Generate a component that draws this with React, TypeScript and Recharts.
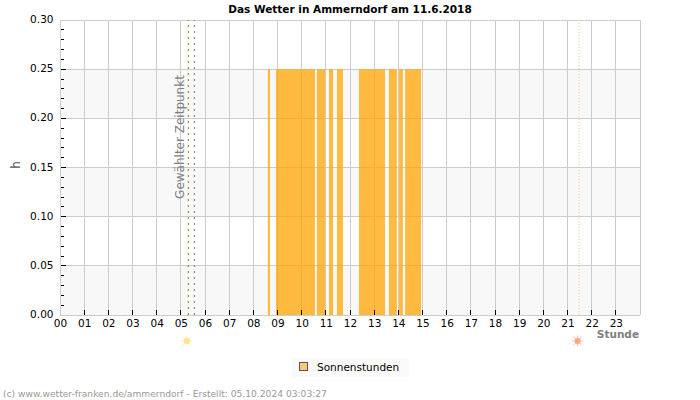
import { Area, CartesianGrid, ComposedChart, Legend, ReferenceLine, XAxis, YAxis } from 'recharts';

// Sunshine runs of the day, in decimal hours
const runStart = [8.6, 8.94, 10.63, 11.13, 11.46, 12.37, 13.61, 14.03, 14.28];
const runEnd = [8.69, 10.55, 10.97, 11.3, 11.71, 13.45, 13.94, 14.19, 14.94];
const runValue = [0.25, 0.25, 0.25, 0.25, 0.25, 0.25, 0.25, 0.25, 0.25];

const hourTicks = [0, 1, 2, 3, 4, 5, 6, 7, 8, 9, 10, 11, 12, 13, 14, 15, 16, 17, 18, 19, 20, 21, 22, 23, 24];
const hourLabels = ['00', '01', '02', '03', '04', '05', '06', '07', '08', '09', '10', '11', '12', '13', '14', '15', '16', '17', '18', '19', '20', '21', '22', '23'];
const valueTicks = [
  0, 0.01, 0.02, 0.03, 0.04, 0.05, 0.06, 0.07, 0.08, 0.09, 0.1, 0.11, 0.12, 0.13, 0.14, 0.15,
  0.16, 0.17, 0.18, 0.19, 0.2, 0.21, 0.22, 0.23, 0.24, 0.25, 0.26, 0.27, 0.28, 0.29, 0.3,
];
const gridValues = [0, 0.05, 0.1, 0.15, 0.2, 0.25, 0.3];

const selectedHour = 5.31;
const sunriseHour = 5.56;
const sunsetHour = 21.48;

const FONT = '"DejaVu Sans", sans-serif';

const table = [
  { hour: 0, sun: 0 },
  ...runStart.flatMap((start, i) => [
    { hour: start, sun: runValue[i] },
    { hour: runEnd[i], sun: 0 },
  ]),
  { hour: 24, sun: 0 },
];

const HourTick = ({ x, y, index }: any) => {
  if (index >= hourLabels.length) return null;
  return (
    <g>
      {index > 0 && <line x1={x} x2={x} y1={y - 5} y2={y} stroke="#000" shapeRendering="crispEdges" />}
      <text x={x + 0.5} y={y + 12} textAnchor="middle" fontFamily={FONT} fontSize={10.5} fill="#000">
        {hourLabels[index]}
      </text>
    </g>
  );
};

const ValueTick = ({ x, y, index, payload }: any) => {
  const major = index % 5 === 0;
  const edge = index === 0 || index === valueTicks.length - 1;
  return (
    <g>
      {!edge && <line x1={x + 1} x2={x + (major ? 6 : 3.5)} y1={y} y2={y} stroke="#000" shapeRendering="crispEdges" />}
      {major && (
        <text x={x - 6.5} y={y + 3} textAnchor="end" fontFamily={FONT} fontSize={10.5} fill="#000">
          {payload.value.toFixed(2)}
        </text>
      )}
    </g>
  );
};

const rays = [0, 45, 90, 135, 180, 225, 270, 315];

const Sun = ({ cx, cy, color }: { cx: number; cy: number; color: string }) => (
  <g>
    {rays.map((a) => (
      <line
        key={a}
        x1={cx}
        y1={cy - 3}
        x2={cx}
        y2={cy - 5.5}
        stroke={color}
        strokeOpacity={0.7}
        transform={`rotate(${a} ${cx} ${cy})`}
      />
    ))}
    <circle cx={cx} cy={cy} r={3} fill={color} />
  </g>
);

const sunLabel = (color: string) => ({ viewBox }: any) => (
  <Sun cx={viewBox.x - 1.5} cy={341} color={color} />
);

const selectedLabel = ({ viewBox }: any) => (
  <text
    x={viewBox.x - 10}
    y={137}
    transform={`rotate(-90 ${viewBox.x - 10} 137)`}
    textAnchor="middle"
    fontFamily={FONT}
    fontSize={12}
    fill="#808080"
  >
    Gewählter Zeitpunkt
  </text>
);

const SunLegend = () => (
  <div
    style={{
      width: 117,
      height: 17,
      paddingBottom: 2,
      background: '#fafafa',
      display: 'flex',
      alignItems: 'center',
      fontFamily: FONT,
      fontSize: 10.5,
      color: '#000',
    }}
  >
    <span
      style={{
        width: 7,
        height: 7,
        margin: '0 9px 0 7px',
        background: '#ffc97a',
        border: '1px solid #555',
      }}
    />
    Sonnenstunden
  </div>
);

export default function App() {
  return (
    <div style={{ position: 'absolute', left: 0, top: 0, width: 700, height: 400 }}>
      <ComposedChart width={700} height={400} data={table} margin={{ top: 20, right: 60, bottom: 55, left: 0 }}>
        <CartesianGrid
          stroke="#cccccc"
          shapeRendering="crispEdges"
          horizontalValues={gridValues}
          horizontalFill={['#ffffff', '#f8f8f8']}
        />
        <XAxis
          dataKey="hour"
          type="number"
          domain={[0, 24]}
          ticks={hourTicks}
          interval={0}
          height={30}
          tickSize={0}
          tickMargin={0}
          tickLine={false}
          axisLine={false}
          tick={HourTick}
        />
        <YAxis
          type="number"
          domain={[0, 0.3]}
          ticks={valueTicks}
          interval={0}
          width={60}
          tickSize={0}
          tickMargin={0}
          tickLine={false}
          axisLine={false}
          tick={ValueTick}
        />
        <ReferenceLine x={selectedHour} stroke="#808000" strokeDasharray="2 4" label={sunLabel('#ffe58a')} />
        <ReferenceLine x={sunriseHour} stroke="#777777" strokeDasharray="2 4" label={selectedLabel} />
        <ReferenceLine x={sunsetHour} stroke="#f5c58a" strokeDasharray="1 2" label={sunLabel('#ffa58a')} />
        <Area
          dataKey="sun"
          name="Sonnenstunden"
          type="stepAfter"
          stroke="none"
          fill="#ffa500"
          fillOpacity={0.75}
          dot={false}
          activeDot={false}
          isAnimationActive={false}
        />
        <Legend
          layout="horizontal"
          verticalAlign="middle"
          align="center"
          content={SunLegend}
          wrapperStyle={{ left: 292, top: 358, width: 117, height: 19 }}
        />
        <text x={350} y={13} textAnchor="middle" fontFamily={FONT} fontSize={10.5} fontWeight="bold" fill="#000">
          Das Wetter in Ammerndorf am 11.6.2018
        </text>
        <text x={639} y={338} textAnchor="end" fontFamily={FONT} fontSize={10.5} fontWeight="bold" fill="#808080">
          Stunde
        </text>
        <text x={20} y={165} transform="rotate(-90 20 165)" textAnchor="middle" fontFamily={FONT} fontSize={12} fill="#555">
          h
        </text>
        <text x={3} y={397} fontFamily={FONT} fontSize={9.15} fill="#999">
          (c) www.wetter-franken.de/ammerndorf - Erstellt: 05.10.2024 03:03:27
        </text>
      </ComposedChart>
    </div>
  );
}
